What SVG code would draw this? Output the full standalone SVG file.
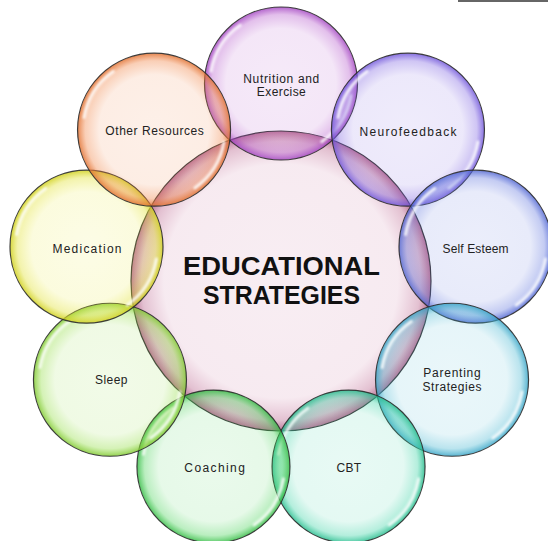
<svg xmlns="http://www.w3.org/2000/svg" xmlns:xlink="http://www.w3.org/1999/xlink" width="548" height="541" viewBox="0 0 548 541">
  <defs>
    <style>
      .rim { stroke: #2b2b2b; stroke-width: 1.2; stroke-opacity: 0.9; }
      .label { font-family: "Liberation Sans", Arial, sans-serif; font-size: 12px; fill: #222; text-anchor: middle; }
      .title { font-family: "Liberation Sans", Arial, sans-serif; font-weight: bold; font-size: 26px; fill: #111; text-anchor: middle; }
      .gloss { fill: none; stroke: #fff; stroke-width: 3; stroke-linecap: round; stroke-opacity: 0.85; filter: url(#soft); }
    </style>
    <filter id="soft" x="-20%" y="-20%" width="140%" height="140%">
      <feGaussianBlur stdDeviation="0.8"/>
    </filter>
    <!-- bubble shading: pale tint inside, stronger hue towards the rim -->
    <radialGradient id="g-hub">
      <stop offset="0" stop-color="#c0608f" stop-opacity="0.11"/>
      <stop offset="0.78" stop-color="#c0608f" stop-opacity="0.13"/>
      <stop offset="0.93" stop-color="#b0507e" stop-opacity="0.36"/>
      <stop offset="1" stop-color="#a04070" stop-opacity="0.72"/>
    </radialGradient>
    <radialGradient id="g-purple">
      <stop offset="0" stop-color="#b04ec8" stop-opacity="0.12"/>
      <stop offset="0.72" stop-color="#b04ec8" stop-opacity="0.14"/>
      <stop offset="0.9" stop-color="#b04ec8" stop-opacity="0.36"/>
      <stop offset="1" stop-color="#a040c0" stop-opacity="0.8"/>
    </radialGradient>
    <radialGradient id="g-violet">
      <stop offset="0" stop-color="#7a5ee0" stop-opacity="0.12"/>
      <stop offset="0.72" stop-color="#7a5ee0" stop-opacity="0.14"/>
      <stop offset="0.9" stop-color="#7a5ee0" stop-opacity="0.36"/>
      <stop offset="1" stop-color="#6a4ed8" stop-opacity="0.8"/>
    </radialGradient>
    <radialGradient id="g-blue">
      <stop offset="0" stop-color="#5a70dc" stop-opacity="0.12"/>
      <stop offset="0.72" stop-color="#5a70dc" stop-opacity="0.14"/>
      <stop offset="0.9" stop-color="#5a70dc" stop-opacity="0.36"/>
      <stop offset="1" stop-color="#4a60d0" stop-opacity="0.8"/>
    </radialGradient>
    <radialGradient id="g-cyan">
      <stop offset="0" stop-color="#40b4d0" stop-opacity="0.11"/>
      <stop offset="0.72" stop-color="#40b4d0" stop-opacity="0.13"/>
      <stop offset="0.9" stop-color="#40b4d0" stop-opacity="0.36"/>
      <stop offset="1" stop-color="#30a0c4" stop-opacity="0.8"/>
    </radialGradient>
    <radialGradient id="g-teal">
      <stop offset="0" stop-color="#30d0a0" stop-opacity="0.11"/>
      <stop offset="0.72" stop-color="#30d0a0" stop-opacity="0.13"/>
      <stop offset="0.9" stop-color="#30d0a0" stop-opacity="0.36"/>
      <stop offset="1" stop-color="#20b888" stop-opacity="0.82"/>
    </radialGradient>
    <radialGradient id="g-green">
      <stop offset="0" stop-color="#40d050" stop-opacity="0.11"/>
      <stop offset="0.72" stop-color="#40d050" stop-opacity="0.13"/>
      <stop offset="0.9" stop-color="#40d050" stop-opacity="0.36"/>
      <stop offset="1" stop-color="#30b840" stop-opacity="0.82"/>
    </radialGradient>
    <radialGradient id="g-lime">
      <stop offset="0" stop-color="#90dc40" stop-opacity="0.12"/>
      <stop offset="0.72" stop-color="#90dc40" stop-opacity="0.14"/>
      <stop offset="0.9" stop-color="#90dc40" stop-opacity="0.38"/>
      <stop offset="1" stop-color="#80c830" stop-opacity="0.84"/>
    </radialGradient>
    <radialGradient id="g-yellow">
      <stop offset="0" stop-color="#e8e830" stop-opacity="0.12"/>
      <stop offset="0.72" stop-color="#e8e830" stop-opacity="0.16"/>
      <stop offset="0.9" stop-color="#e0e030" stop-opacity="0.4"/>
      <stop offset="1" stop-color="#d0d020" stop-opacity="0.86"/>
    </radialGradient>
    <radialGradient id="g-orange">
      <stop offset="0" stop-color="#f08040" stop-opacity="0.12"/>
      <stop offset="0.72" stop-color="#f08040" stop-opacity="0.14"/>
      <stop offset="0.9" stop-color="#f08040" stop-opacity="0.38"/>
      <stop offset="1" stop-color="#e07030" stop-opacity="0.84"/>
    </radialGradient>
    <!-- glossy reflections for a bubble of radius 76.5, centred on the origin -->
    <g id="shine">
      <path class="gloss" d="M -69.9 -12.3 A 71 71 0 0 1 -40.7 -58.2"/>
      <path class="gloss" d="M 69.9 12.3 A 71 71 0 0 1 40.7 58.2"/>
    </g>
  </defs>

  <rect width="548" height="541" fill="#fff"/>
  <line x1="458" y1="1" x2="548" y2="1" stroke="#333" stroke-width="1.6"/>

  <g id="hub">
    <circle cx="281" cy="281" r="150" fill="url(#g-hub)" class="rim"/>
    <text class="title" x="281.5" y="275" textLength="197" lengthAdjust="spacingAndGlyphs">EDUCATIONAL</text>
    <text class="title" x="281.5" y="304" textLength="157" lengthAdjust="spacingAndGlyphs">STRATEGIES</text>
  </g>

  <g id="connectors"/>

  <g id="nutrition">
    <circle cx="281" cy="83.5" r="76.5" fill="url(#g-purple)" class="rim"/>
    <use href="#shine" x="281" y="83.5"/>
    <text class="label" x="281.3" y="83" textLength="76">Nutrition and</text>
    <text class="label" x="281.3" y="96" textLength="49">Exercise</text>
  </g>

  <g id="neurofeedback">
    <circle cx="407.95" cy="129.71" r="76.5" fill="url(#g-violet)" class="rim"/>
    <use href="#shine" x="407.95" y="129.71"/>
    <text class="label" x="408" y="135.5" textLength="97">Neurofeedback</text>
  </g>

  <g id="self-esteem">
    <circle cx="475.5" cy="246.7" r="76.5" fill="url(#g-blue)" class="rim"/>
    <use href="#shine" x="475.5" y="246.7"/>
    <text class="label" x="475.5" y="252.5" textLength="66">Self Esteem</text>
  </g>

  <g id="parenting">
    <circle cx="452.04" cy="379.75" r="76.5" fill="url(#g-cyan)" class="rim"/>
    <use href="#shine" x="452.04" y="379.75"/>
    <text class="label" x="452" y="377.3" textLength="57.5">Parenting</text>
    <text class="label" x="452" y="390.7" textLength="59">Strategies</text>
  </g>

  <g id="cbt">
    <circle cx="348.55" cy="466.59" r="76.5" fill="url(#g-teal)" class="rim"/>
    <use href="#shine" x="348.55" y="466.59"/>
    <text class="label" x="349" y="472" style="letter-spacing:0.3px">CBT</text>
  </g>

  <g id="coaching">
    <circle cx="213.45" cy="466.59" r="76.5" fill="url(#g-green)" class="rim"/>
    <use href="#shine" x="213.45" y="466.59"/>
    <text class="label" x="214.6" y="472" textLength="60.5">Coaching</text>
  </g>

  <g id="sleep">
    <circle cx="109.96" cy="379.75" r="76.5" fill="url(#g-lime)" class="rim"/>
    <use href="#shine" x="109.96" y="379.75"/>
    <text class="label" x="111.3" y="384" textLength="32.5">Sleep</text>
  </g>

  <g id="medication">
    <circle cx="86.5" cy="246.7" r="76.5" fill="url(#g-yellow)" class="rim"/>
    <use href="#shine" x="86.5" y="246.7"/>
    <text class="label" x="87" y="253" textLength="69">Medication</text>
  </g>

  <g id="other-resources">
    <circle cx="154.05" cy="129.71" r="76.5" fill="url(#g-orange)" class="rim"/>
    <use href="#shine" x="154.05" y="129.71"/>
    <text class="label" x="154.6" y="135.3" textLength="98.5">Other Resources</text>
  </g>
</svg>
